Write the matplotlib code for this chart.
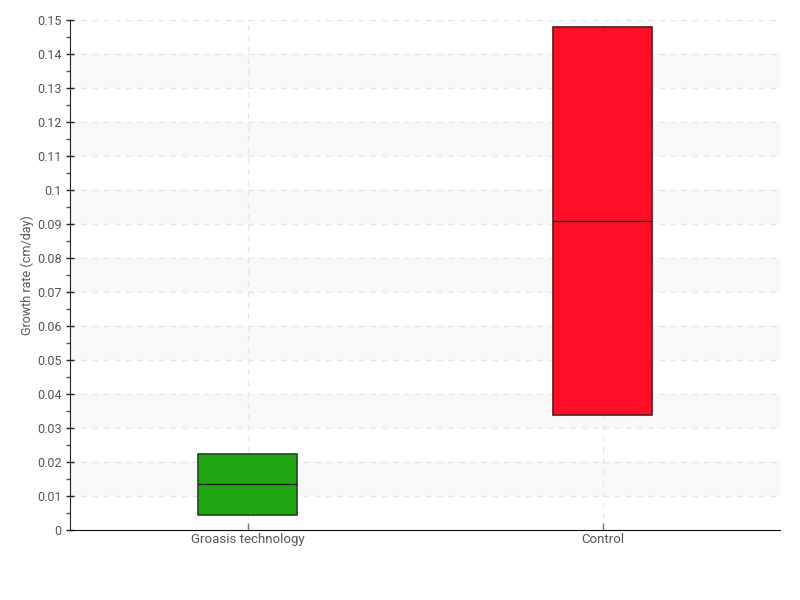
import matplotlib
matplotlib.use('Agg')
import matplotlib.pyplot as plt
import numpy as np
from matplotlib.ticker import MultipleLocator

plt.rcParams['font.family'] = ['Roboto', 'DejaVu Sans']

categories = ['Groasis technology', 'Control']
q1 = [0.0044, 0.0338]
median = [0.0135, 0.0909]
q3 = [0.0224, 0.148]
fill_colors = ['#22a512', '#ff0f27']
edge_colors = ['#1d4a17', '#5a1a1e']

fig = plt.figure(figsize=(8, 6), dpi=100)
ax = fig.add_axes([0.0875, 0.1167, 0.8875, 0.85])

ymax = 0.15
x = np.arange(len(categories))
ax.set_xlim(-0.5, 1.5)
ax.set_ylim(0, ymax)

# alternating bands
for k in range(1, 15, 2):
    ax.axhspan(k * 0.01, (k + 1) * 0.01, color='#f8f8f8', zorder=0, lw=0)

# grid
ax.yaxis.set_major_locator(MultipleLocator(0.01))
ax.yaxis.set_minor_locator(MultipleLocator(0.005))
ax.grid(True, axis='both', which='major', color='#e6e6e6', linestyle=(0, (4, 4)), lw=1, zorder=0.5)
ax.set_axisbelow(True)

w = 0.28
heights = [b - a for a, b in zip(q1, q3)]
ax.bar(x, heights, width=w, bottom=q1, color=fill_colors, edgecolor=edge_colors, linewidth=1.2, zorder=3)
for i in range(len(categories)):
    ax.hlines(median[i], x[i] - w / 2, x[i] + w / 2, color='#1a1a1a', lw=1, zorder=4)

ax.set_xticks(x)
ax.set_xticklabels(categories)
ylabels = ['0'] + ['%g' % (v / 100) for v in range(1, 16)]
ax.set_yticks(np.arange(0, 0.151, 0.01))
ax.set_yticklabels(ylabels)

ax.tick_params(axis='y', which='major', direction='inout', length=6, width=1, color='#222222',
               labelsize=9, labelcolor='#555555', pad=3)
ax.tick_params(axis='y', which='minor', direction='out', length=3, width=1, color='#ee1111')
ax.tick_params(axis='x', which='major', direction='in', length=5, width=1, color='#777777',
               labelsize=9.5, labelcolor='#555555', pad=2)

ax.spines['top'].set_visible(False)
ax.spines['right'].set_visible(False)
ax.spines['left'].set_color('#222222')
ax.spines['bottom'].set_color('#111111')

ax.set_ylabel('Growth rate (cm/day)', fontsize=9, color='#555555')
ax.yaxis.set_label_coords(-0.051, 0.5)

fig.savefig('out.png', dpi=100)
